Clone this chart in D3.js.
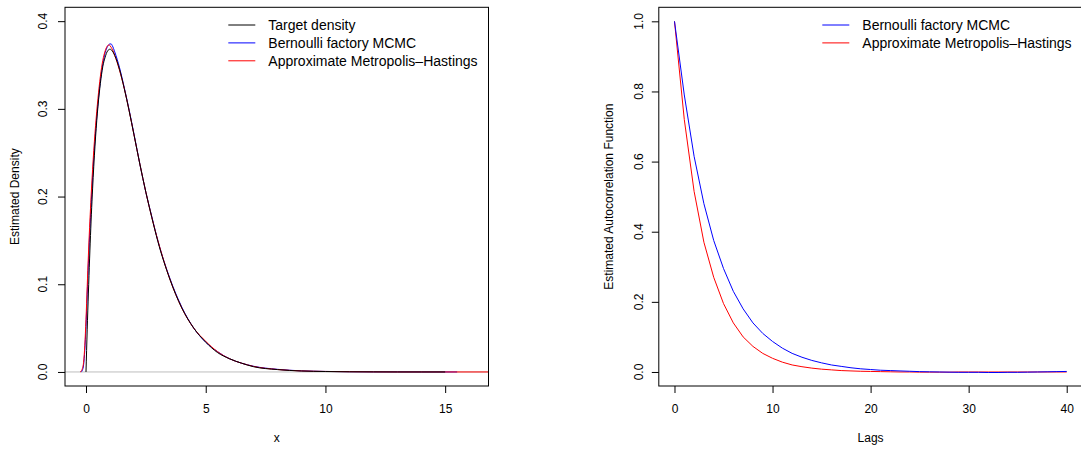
<!DOCTYPE html>
<html><head><meta charset="utf-8">
<script src="https://cdn.jsdelivr.net/npm/d3@7"></script>
<style>
body{margin:0;background:#fff}
text{font-family:"Liberation Sans",Arial,Helvetica,sans-serif;fill:#000}
</style>
</head><body>
<svg id="c" width="1081" height="450"></svg>
<script>
// ---------- Left panel: density estimates ----------
const targetX = [0, 0.05, 0.1, 0.2, 0.3, 0.4, 0.5, 0.6, 0.7, 0.8, 0.9, 1.0, 1.1, 1.2, 1.4, 1.6, 1.8, 2.0, 2.25, 2.5, 2.75, 3.0, 3.5, 4.0, 4.5, 5.0, 5.5, 6.0, 6.5, 7.0, 8.0, 9.0, 10, 11, 12, 13, 14, 15];
const targetY = [0, 0.048, 0.090, 0.164, 0.222, 0.268, 0.303, 0.329, 0.348, 0.359, 0.366, 0.368, 0.366, 0.361, 0.345, 0.323, 0.298, 0.271, 0.237, 0.205, 0.176, 0.149, 0.106, 0.073, 0.050, 0.034, 0.022, 0.015, 0.010, 0.006, 0.0027, 0.0011, 0.0005, 0.0002, 0.0001, 0, 0, 0];

const bfX = [-0.2, -0.15, -0.1, -0.05, 0, 0.05, 0.1, 0.2, 0.3, 0.4, 0.5, 0.6, 0.7, 0.8, 0.9, 1.0, 1.05, 1.1, 1.2, 1.4, 1.6, 1.8, 2.0, 2.25, 2.5, 2.75, 3.0, 3.5, 4.0, 4.5, 5.0, 5.5, 6.0, 6.5, 7.0, 8.0, 9.0, 10, 11, 12, 13, 14, 15.5];
const bfY = [0, 0.002, 0.008, 0.025, 0.052, 0.088, 0.124, 0.183, 0.234, 0.274, 0.306, 0.332, 0.351, 0.364, 0.371, 0.374, 0.374, 0.372, 0.365, 0.347, 0.324, 0.299, 0.272, 0.237, 0.205, 0.177, 0.150, 0.107, 0.074, 0.050, 0.034, 0.023, 0.015, 0.010, 0.0065, 0.003, 0.0013, 0.0006, 0.0003, 0.0001, 0.0001, 0, 0];

const amhX = [-0.25, -0.2, -0.15, -0.1, -0.05, 0, 0.05, 0.1, 0.2, 0.3, 0.4, 0.5, 0.6, 0.7, 0.8, 0.9, 0.97, 1.0, 1.1, 1.2, 1.4, 1.6, 1.8, 2.0, 2.25, 2.5, 2.75, 3.0, 3.5, 4.0, 4.5, 5.0, 5.5, 6.0, 6.5, 7.0, 8.0, 9.0, 10, 11, 12, 13, 15, 17];
const amhY = [0, 0.001, 0.004, 0.011, 0.030, 0.060, 0.097, 0.133, 0.193, 0.242, 0.281, 0.312, 0.337, 0.355, 0.366, 0.372, 0.373, 0.372, 0.368, 0.361, 0.344, 0.323, 0.298, 0.271, 0.237, 0.205, 0.176, 0.150, 0.106, 0.073, 0.050, 0.035, 0.023, 0.015, 0.010, 0.0063, 0.0028, 0.0012, 0.0006, 0.0003, 0.0001, 0, 0, 0];

const densXTicks = [0, 5, 10, 15];
const densYTicks = [0, 0.1, 0.2, 0.3, 0.4];

// ---------- Right panel: autocorrelation ----------
const lags = d3.range(0, 41);
const acfBF = [1, 0.79, 0.615, 0.48, 0.375, 0.295, 0.23, 0.18, 0.14, 0.11, 0.087, 0.068, 0.053, 0.042, 0.033, 0.026, 0.020, 0.016, 0.012, 0.009, 0.007, 0.005, 0.004, 0.003, 0.002, 0.001, 0.0005, 0, -0.0005, -0.001, -0.001, -0.001, -0.0015, -0.0015, -0.001, -0.001, -0.0005, 0, 0.0005, 0.001, 0.0015];
const acfAMH = [1, 0.72, 0.515, 0.37, 0.27, 0.195, 0.14, 0.10, 0.073, 0.053, 0.039, 0.028, 0.020, 0.015, 0.011, 0.008, 0.006, 0.004, 0.003, 0.002, 0.0015, 0.001, 0.0005, 0, 0, -0.0005, -0.0005, -0.0005, -0.0005, 0, 0, 0, 0, 0, 0, 0, 0, 0, 0, 0, 0];
const acfXTicks = [0, 10, 20, 30, 40];
const acfYTicks = [0, 0.2, 0.4, 0.6, 0.8, 1.0];

const svg = d3.select("#c");
svg.append("rect").attr("width", 1081).attr("height", 450).attr("fill", "#fff");

function panel(o) {
  const x = d3.scaleLinear().domain(o.xDom).range([o.x0, o.x1]);
  const y = d3.scaleLinear().domain(o.yDom).range([o.y1, o.y0]);
  const g = svg.append("g");
  const clipId = "clip" + o.id;
  svg.append("clipPath").attr("id", clipId).append("rect")
    .attr("x", o.x0).attr("y", o.y0).attr("width", o.x1 - o.x0).attr("height", o.y1 - o.y0);
  const plot = g.append("g").attr("clip-path", `url(#${clipId})`);
  if (o.zeroLine) {
    plot.append("line").attr("x1", o.x0).attr("x2", o.x1)
      .attr("y1", y(0)).attr("y2", y(0)).attr("stroke", "#bebebe").attr("stroke-width", 1);
  }
  o.series.forEach(s => {
    const line = d3.line().x((d, i) => x(s.x[i])).y(d => y(d)).curve(o.curve);
    plot.append("path").datum(s.y).attr("d", line)
      .attr("fill", "none").attr("stroke", s.color).attr("stroke-width", 1);
  });
  // box
  g.append("rect").attr("x", o.x0).attr("y", o.y0).attr("width", o.x1 - o.x0).attr("height", o.y1 - o.y0)
    .attr("fill", "none").attr("stroke", "#000").attr("stroke-width", 1);
  // x axis
  const xa = g.append("g").attr("transform", `translate(0,${o.y1})`)
    .call(d3.axisBottom(x).tickValues(o.xTicks).tickSize(7).tickPadding(11.8).tickFormat(d3.format("d")));
  xa.select(".domain").remove();
  xa.selectAll("text").attr("font-size", 12).attr("font-family", null);
  xa.selectAll("line").attr("stroke", "#000");
  // y axis
  const ya = g.append("g").attr("transform", `translate(${o.x0},0)`)
    .call(d3.axisLeft(y).tickValues(o.yTicks).tickSize(7).tickFormat(""));
  ya.select(".domain").remove();
  ya.selectAll("line").attr("stroke", "#000");
  g.selectAll(null).data(o.yTicks).enter().append("text")
    .attr("transform", d => `translate(${o.yLabX},${y(d)}) rotate(-90)`)
    .attr("text-anchor", "middle").attr("font-size", 12)
    .text(d => d3.format(".1f")(d));
  // titles
  g.append("text").attr("x", (o.x0 + o.x1) / 2).attr("y", 441.5)
    .attr("text-anchor", "middle").attr("font-size", 12).text(o.xTitle);
  g.append("text").attr("transform", `translate(${o.yTitleX},${(o.y0 + o.y1) / 2}) rotate(-90)`)
    .attr("text-anchor", "middle").attr("font-size", 12).text(o.yTitle);
  // legend
  o.legend.forEach((L, i) => {
    const cy = 25 + i * 17.9;
    g.append("line").attr("x1", o.legX).attr("x2", o.legX + 27)
      .attr("y1", cy).attr("y2", cy).attr("stroke", L.color).attr("stroke-width", 1);
    g.append("text").attr("x", o.legX + 40).attr("y", cy + 5)
      .attr("font-size", 14).text(L.label);
  });
}

panel({
  id: "L", x0: 65, x1: 488.5, y0: 7.3, y1: 386,
  xDom: [-0.877, 16.81], yDom: [-0.016, 0.4158],
  xTicks: densXTicks, yTicks: densYTicks, yLabX: 47.3, yTitleX: 19,
  xTitle: "x", yTitle: "Estimated Density", zeroLine: true, curve: d3.curveMonotoneX,
  series: [
    {x: bfX, y: bfY, color: "#0000ff"},
    {x: amhX, y: amhY, color: "#ff0000"},
    {x: targetX, y: targetY, color: "#000000"}
  ],
  legX: 228.3,
  legend: [
    {label: "Target density", color: "#000000"},
    {label: "Bernoulli factory MCMC", color: "#0000ff"},
    {label: "Approximate Metropolis\u2013Hastings", color: "#ff0000"}
  ]
});

panel({
  id: "R", x0: 658.8, x1: 1082.4, y0: 7.3, y1: 386,
  xDom: [-1.6, 41.6], yDom: [-0.04, 1.04],
  xTicks: acfXTicks, yTicks: acfYTicks, yLabX: 642.7, yTitleX: 613,
  xTitle: "Lags", yTitle: "Estimated Autocorrelation Function", zeroLine: false, curve: d3.curveLinear,
  series: [
    {x: lags, y: acfAMH, color: "#ff0000"},
    {x: lags, y: acfBF, color: "#0000ff"}
  ],
  legX: 822.3,
  legend: [
    {label: "Bernoulli factory MCMC", color: "#0000ff"},
    {label: "Approximate Metropolis\u2013Hastings", color: "#ff0000"}
  ]
});
</script>
</body></html>
